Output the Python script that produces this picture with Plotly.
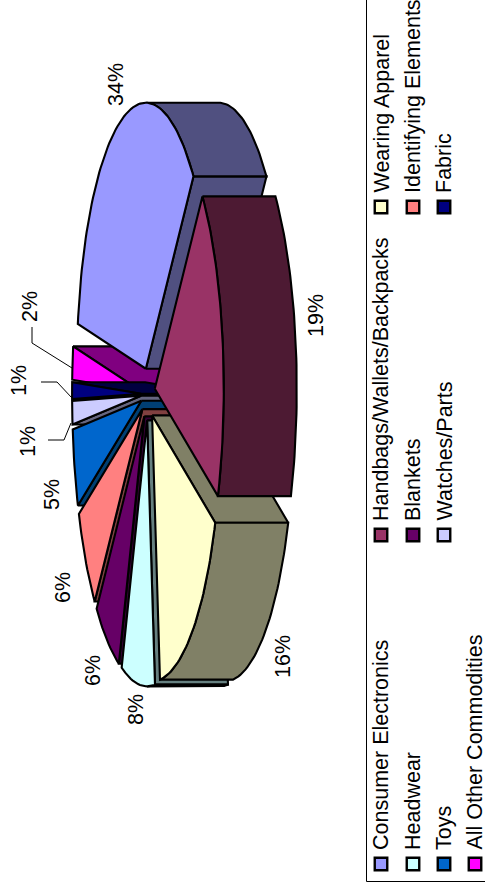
import math
import plotly.graph_objects as go

# ---- data (clockwise from the first slice) ----
categories = ["Consumer Electronics", "Handbags/Wallets/Backpacks", "Wearing Apparel", "Headwear",
              "Blankets", "Identifying Elements", "Toys", "Watches/Parts", "Fabric", "All Other Commodities"]
shares = [34.3, 19.4, 16.5, 7.8, 6.1, 6.4, 4.7, 1.4, 1.0, 2.0]
labels = ["34%", "19%", "16%", "8%", "6%", "6%", "5%", "1%", "1%", "2%"]

# ---- styles ----
top_colors = ["#9999FF", "#993366", "#FFFFCC", "#CCFFFF", "#660066", "#FF8080", "#0066CC", "#CCCCFF", "#000080", "#FF00FF"]
side_colors = ["#505080", "#4D1A33", "#808066", "#668080", "#330033", "#804040", "#003F73", "#666680", "#000040", "#800080"]
FONT = dict(family="Liberation Sans, Arial, sans-serif", size=21.5, color="black")
LW = 2.1

# ---- layout geometry (pixels) ----
CX, CY = 148, 394
A, B = 266, 69          # ellipse semi-axes along screen y and x
DEPTH = 73
EXPLODE = 0.10
START = 9.7
DRAW_ORDER = [9, 8, 7, 6, 5, 4, 3, 0, 2, 1]
LABEL_POS = [(116, 85), (316, 316), (283, 657), (136, 710), (93, 671), (63, 588), (52, 495), (28, 442), (19, 381), (30, 307)]
LEGEND_ROWS = [381, 413, 444, 474]
LEGEND_MARK_ROWS = [381, 413, 444, 475]
LEGEND_COLS = [864, 535, 207]
LEGEND_PLACE = [(0, 0), (0, 1), (0, 2), (1, 0), (1, 1), (1, 2), (2, 0), (2, 1), (2, 2), (3, 0)]

fig = go.Figure()


def pt(theta, cx, cy, dx=0.0):
    t = math.radians(theta)
    return cx - B * math.cos(t) + dx, cy - A * math.sin(t)


def poly(points, fill):
    xs = [p[0] for p in points] + [points[0][0]]
    ys = [p[1] for p in points] + [points[0][1]]
    fig.add_trace(go.Scatter(x=xs, y=ys, mode="lines", fill="toself", fillcolor=fill,
                             line=dict(color="black", width=LW), hoverinfo="skip", showlegend=False))


# angular span of every slice from its share
total = sum(shares)
spans = []
a0 = START
for s in shares:
    a1 = a0 + 360 * s / total
    spans.append((a0, a1))
    a0 = a1

for i in DRAW_ORDER:
    a0, a1 = spans[i]
    mid = (a0 + a1) / 2
    t = math.radians(mid)
    ax = CX - B * EXPLODE * math.cos(t)
    ay = CY - A * EXPLODE * math.sin(t)
    n = max(4, int((a1 - a0) / 1.5))
    angles = [a0 + (a1 - a0) * k / n for k in range(n + 1)]
    rim = [pt(th, ax, ay) for th in angles]
    apex = (ax, ay)
    shift = lambda p: (p[0] + DEPTH, p[1])
    # radial walls, only those that face the viewer
    if math.sin(math.radians(a0)) < 0:
        poly([apex, rim[0], shift(rim[0]), shift(apex)], side_colors[i])
    if math.sin(math.radians(a1)) > 0:
        poly([apex, rim[-1], shift(rim[-1]), shift(apex)], side_colors[i])
    # outer wall: only the front half of the rim
    front = [th for th in angles if 90 <= th % 360 <= 270]
    if a0 % 360 < 90 < a1 % 360:
        front = [90.0] + front
    if a0 % 360 < 270 < a1 % 360:
        front = front + [270.0]
    if len(front) >= 2:
        f = [pt(th, ax, ay) for th in front]
        poly(f + [shift(p) for p in reversed(f)], side_colors[i])
    # top face
    poly([apex] + rim, top_colors[i])

annotations = []
for txt, (x, y) in zip(labels, LABEL_POS):
    annotations.append(dict(x=x, y=y, text=txt, showarrow=False, textangle=-90, font=FONT,
                            xanchor="center", yanchor="middle", xref="x", yref="y"))

# legend drawn rotated with the rest of the picture
for name, color, (r, c) in zip(categories, top_colors, LEGEND_PLACE):
    fig.add_trace(go.Scatter(x=[LEGEND_MARK_ROWS[r]], y=[LEGEND_COLS[c]], mode="markers",
                             marker=dict(symbol="square", size=12.5, color=color, line=dict(color="black", width=2.4)),
                             hoverinfo="skip", showlegend=False))
    annotations.append(dict(x=LEGEND_ROWS[r], y=LEGEND_COLS[c] - 12, text=name, showarrow=False, textangle=-90,
                            font=FONT, xanchor="center", yanchor="bottom", xref="x", yref="y"))

shapes = [
    dict(type="path", path="M 366.5 0 L 366.5 881.5 L 485 881.5", line=dict(color="black", width=1), xref="x", yref="y"),
    dict(type="path", path="M 32 327 L 32 343 L 72 368", line=dict(color="black", width=1), xref="x", yref="y"),
    dict(type="path", path="M 41 382 L 57 382 L 72 398", line=dict(color="black", width=1), xref="x", yref="y"),
    dict(type="path", path="M 48 440 L 64 440 L 71 423", line=dict(color="black", width=1), xref="x", yref="y"),
]

fig.update_layout(
    width=485, height=890, margin=dict(l=0, r=0, t=0, b=0),
    paper_bgcolor="white", plot_bgcolor="white",
    xaxis=dict(range=[0, 485], visible=False, fixedrange=True),
    yaxis=dict(range=[890, 0], visible=False, fixedrange=True),
    annotations=annotations, shapes=shapes, showlegend=False,
)
fig.write_html("out.html", config=dict(displayModeBar=False),
               post_script="document.body.style.margin='0';")
